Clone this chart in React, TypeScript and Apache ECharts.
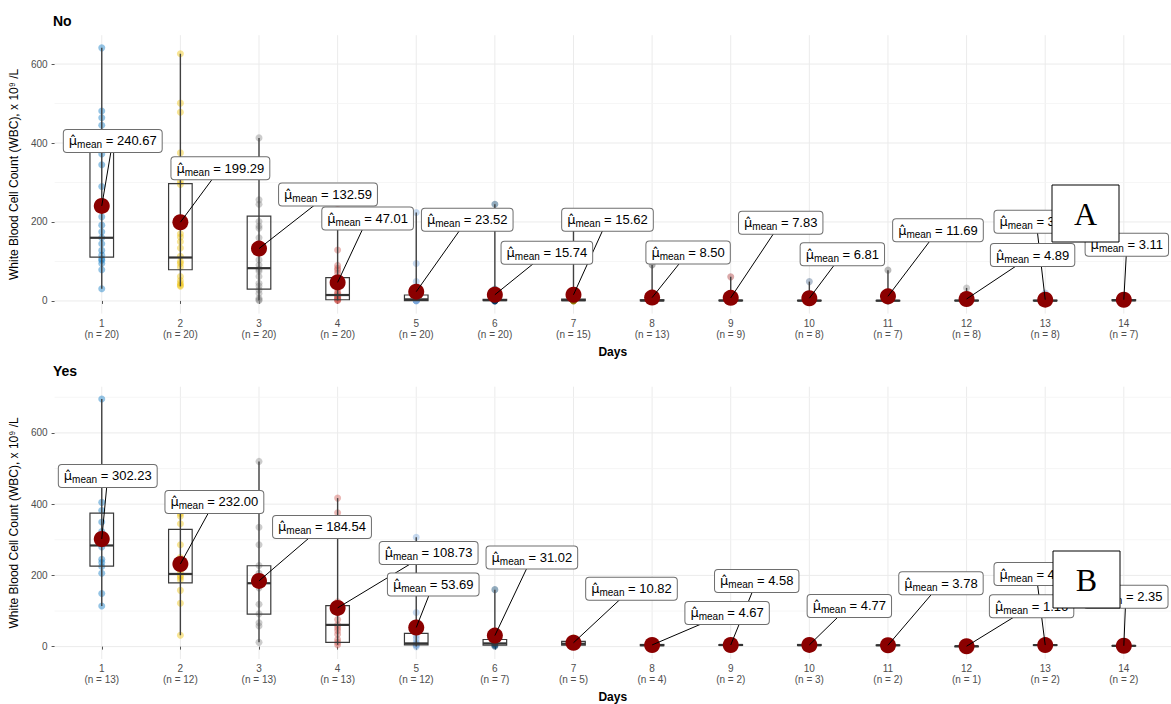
import React, { useEffect, useRef } from "react";
import * as echarts from "echarts";

// Days on study and number of patients per day, by group
const days = [1, 2, 3, 4, 5, 6, 7, 8, 9, 10, 11, 12, 13, 14];
const countNo = [20, 20, 20, 20, 20, 20, 15, 13, 9, 8, 7, 8, 8, 7];
const countYes = [13, 12, 13, 13, 12, 7, 5, 4, 2, 3, 2, 1, 2, 2];

// Group means of WBC (x 10^9/L)
const meanNo = [240.67, 199.29, 132.59, 47.01, 23.52, 15.74, 15.62, 8.5, 7.83, 6.81, 11.69, 4.89, 3.25, 3.11];
const meanYes = [302.23, 232.0, 184.54, 108.73, 53.69, 31.02, 10.82, 4.67, 4.58, 4.77, 3.78, 1.16, 4.35, 2.35];

// Box statistics per day: [min, Q1, median, Q3, max]
const boxNo = [
  [31, 111, 160, 382, 641],
  [37, 79, 110, 297, 626],
  [1, 30, 83, 215, 413],
  [1, 3, 15, 59, 232],
  [0.3, 1, 4, 15, 224],
  [0.1, 1, 2, 4, 245],
  [0.2, 0.9, 2, 4.5, 190],
  [0.2, 0.5, 1, 3, 91],
  [0.3, 0.5, 1, 2, 61],
  [0, 0.25, 0.75, 1.6, 49],
  [0.03, 0.25, 0.8, 1.25, 78],
  [0.02, 0.4, 0.9, 1.6, 33],
  [0.1, 0.35, 0.65, 1.8, 20],
  [0.27, 0.75, 1.5, 3.25, 12],
];
const boxYes = [
  [114, 226, 284, 375, 695],
  [32, 179, 204, 329, 373],
  [12, 91, 178, 227, 520],
  [5, 12, 61, 115, 417],
  [0, 5, 9, 37, 307],
  [1, 4, 9, 20, 160],
  [2, 4, 8, 15, 25],
  [1.7, 2.7, 4, 6, 9],
  [2.16, 3.37, 4.58, 5.79, 7],
  [2.31, 3.16, 4, 6, 8],
  [2.56, 3.17, 3.78, 4.39, 5],
  [1.16, 1.16, 1.16, 1.16, 1.16],
  [2.7, 3.53, 4.35, 5.18, 6],
  [1.2, 1.78, 2.35, 2.93, 3.5],
];

// Individual patient observations per day
const wbcNo = [
  [641, 481, 464, 445, 398, 372, 345, 290, 213, 192, 175, 160, 145, 128, 116, 107, 103, 95, 79, 31],
  [626, 501, 478, 375, 340, 302, 295, 170, 150, 162, 134, 113, 100, 95, 86, 62, 52, 45, 40, 37],
  [413, 256, 245, 201, 190, 184, 160, 130, 104, 91, 80, 75, 62, 45, 38, 28, 19, 7, 3, 1],
  [232, 90, 129, 83, 78, 70, 60, 49, 40, 30, 22, 19, 15, 12, 9, 7, 5, 3, 2, 1],
  [224, 95, 49, 30, 19, 12, 8, 6, 5, 4, 3, 3, 2, 2, 1, 1, 1, 0.5, 0.5, 0.3],
  [245, 30, 12, 8, 6, 5, 4, 3, 3, 2, 2, 2, 1, 1, 1, 1, 0.5, 0.5, 0.2, 0.1],
  [190, 20, 8, 5, 4, 3, 2, 2, 1.5, 1, 1, 0.8, 0.5, 0.3, 0.2],
  [91, 5, 4, 3, 2, 1.5, 1, 1, 0.8, 0.5, 0.3, 0.2, 0.2],
  [61, 3, 2, 1.5, 1, 0.8, 0.5, 0.3, 0.4],
  [49, 2, 1.5, 1, 0.5, 0.3, 0.2, 0],
  [78, 1.5, 1, 0.8, 0.3, 0.2, 0.03],
  [33, 2, 1.5, 1, 0.8, 0.5, 0.3, 0.02],
  [20, 2.5, 1.5, 0.8, 0.5, 0.4, 0.2, 0.1],
  [12, 4, 2.5, 1.5, 1, 0.5, 0.27],
];
const wbcYes = [
  [695, 405, 382, 350, 323, 290, 280, 245, 236, 225, 206, 149, 114],
  [373, 366, 345, 286, 250, 210, 200, 195, 188, 158, 122, 32],
  [520, 335, 286, 228, 206, 195, 178, 165, 119, 92, 67, 58, 12],
  [417, 376, 126, 118, 95, 76, 61, 53, 45, 35, 20, 12, 5],
  [307, 96, 60, 40, 30, 22, 12, 8, 6, 5, 3, 0],
  [160, 25, 15, 9, 5, 3, 1],
  [25, 15, 8, 4, 2],
  [9, 5, 3, 1.7],
  [7, 2.16],
  [8, 4, 2.31],
  [5, 2.56],
  [1.16],
  [6, 2.7],
  [3.5, 1.2],
];

const yTicks = [0, 200, 400, 600];
const yMinor = [100, 300, 500, 700];

// Pixel offsets of each mean label from its point
const labelOffsetNo = [[11, -65], [40, -54], [69, -54], [30, -64], [51, -72], [52, -42], [34, -75], [36, -45], [50, -75], [33, -44], [50, -66], [66, -44], [-9, -78], [3, -55]];
const labelOffsetYes = [[6, -63], [34, -62], [63, -54], [91, -55], [17, -43], [37, -78], [58, -54], [75, -32], [26, -64], [40, -39], [53, -62], [65, -40], [-9, -71], [2, -49]];

const palette = ["#0073C2", "#EFC000", "#868686", "#CD534C", "#7AA6DC", "#003C67", "#8F7700", "#3B3B3B", "#A73030", "#4A6990", "#5B5B5B", "#868686", "#7AA6DC", "#4A6990"];
const FONT = "'Liberation Sans', Arial, Helvetica, sans-serif";

function buildPanel(g: number, counts: number[], means: number[], boxes: number[][], obs: number[][], offsets: number[][]) {
  const all = obs.flat();
  const lo = Math.min(...all);
  const hi = Math.max(...all);
  const pad = (hi - lo) * 0.05;
  const yMin = lo - pad;
  const yMax = hi + pad;

  const xAxis = {
    gridIndex: g,
    type: "value",
    min: 0.4,
    max: 14.6,
    axisLine: { show: false },
    axisTick: { show: true, customValues: days, length: 3, lineStyle: { color: "#555", width: 1 } },
    axisLabel: {
      customValues: days,
      formatter: (v: number) => `${v}\n(n = ${counts[v - 1]})`,
      fontSize: 10,
      lineHeight: 11,
      color: "#4D4D4D",
      fontFamily: FONT,
      margin: 4,
    },
    splitLine: { show: false },
    name: "Days",
    nameLocation: "middle",
    nameGap: 32,
    nameTextStyle: { fontSize: 12, fontWeight: "bold", color: "#000", fontFamily: FONT },
  };

  const yAxis = {
    gridIndex: g,
    type: "value",
    min: yMin,
    max: yMax,
    axisLine: { show: false },
    axisTick: { show: true, customValues: yTicks, length: 3, lineStyle: { color: "#555", width: 1 } },
    axisLabel: { customValues: yTicks, fontSize: 10, color: "#4D4D4D", fontFamily: FONT, margin: 7 },
    splitLine: { show: false },
    name: "White Blood Cell Count (WBC), x 10\u2079 /L",
    nameLocation: "middle",
    nameGap: 31,
    nameTextStyle: { fontSize: 12, color: "#000", fontFamily: FONT },
  };

  const gridData: number[][] = [
    ...days.map((d) => [0, d]),
    ...yTicks.filter((v) => v <= yMax).map((v) => [1, v]),
    ...yMinor.filter((v) => v <= yMax).map((v) => [2, v]),
  ];

  const series: any[] = [
    {
      type: "custom",
      xAxisIndex: g,
      yAxisIndex: g,
      silent: true,
      z: 0,
      data: gridData,
      encode: { x: 1, y: 1 },
      renderItem: (params: any, api: any) => {
        const cs = params.coordSys;
        const kind = api.value(0);
        const v = api.value(1);
        if (kind === 0) {
          const p = api.coord([v, 0]);
          return { type: "line", shape: { x1: p[0], y1: cs.y, x2: p[0], y2: cs.y + cs.height }, style: { stroke: "#EBEBEB", lineWidth: 1 } };
        }
        const p = api.coord([1, v]);
        return {
          type: "line",
          shape: { x1: cs.x, y1: p[1], x2: cs.x + cs.width, y2: p[1] },
          style: { stroke: kind === 1 ? "#EBEBEB" : "#F4F4F4", lineWidth: kind === 1 ? 1 : 0.8 },
        };
      },
    },
    {
      type: "scatter",
      xAxisIndex: g,
      yAxisIndex: g,
      silent: true,
      z: 2,
      symbolSize: 7,
      data: obs.flatMap((vals, i) =>
        vals.map((v) => ({ value: [days[i], v], itemStyle: { color: palette[i], opacity: 0.42 } }))
      ),
    },
    {
      type: "custom",
      xAxisIndex: g,
      yAxisIndex: g,
      silent: true,
      z: 3,
      data: boxes.map((b, i) => [days[i], ...b]),
      encode: { x: 0, y: [1, 2, 3, 4, 5] },
      renderItem: (params: any, api: any) => {
        const d = api.value(0);
        const pMin = api.coord([d, api.value(1)]);
        const pQ1 = api.coord([d, api.value(2)]);
        const pMed = api.coord([d, api.value(3)]);
        const pQ3 = api.coord([d, api.value(4)]);
        const pMax = api.coord([d, api.value(5)]);
        const w = api.size([0.3, 0])[0];
        const x = pMed[0];
        return {
          type: "group",
          children: [
            { type: "line", shape: { x1: x, y1: pMin[1], x2: x, y2: pMax[1] }, style: { stroke: "#404040", lineWidth: 1.4 } },
            {
              type: "rect",
              shape: { x: x - w / 2, y: pQ3[1], width: w, height: Math.max(pQ1[1] - pQ3[1], 0.5) },
              style: { fill: "none", stroke: "#3a3a3a", lineWidth: 1.2 },
            },
            { type: "line", shape: { x1: x - w / 2, y1: pMed[1], x2: x + w / 2, y2: pMed[1] }, style: { stroke: "#333", lineWidth: 2.2 } },
          ],
        };
      },
    },
    {
      type: "scatter",
      xAxisIndex: g,
      yAxisIndex: g,
      silent: true,
      z: 4,
      symbolSize: 16,
      itemStyle: { color: "#8B0000", opacity: 1 },
      data: means.map((m, i) => [days[i], m]),
    },
    {
      type: "custom",
      xAxisIndex: g,
      yAxisIndex: g,
      silent: true,
      z: 5,
      data: means.map((m, i) => [days[i], m]),
      encode: { x: 0, y: 1 },
      renderItem: (params: any, api: any) => {
        const p = api.coord([api.value(0), api.value(1)]);
        const o = offsets[params.dataIndex];
        return { type: "line", shape: { x1: p[0], y1: p[1], x2: p[0] + o[0], y2: p[1] + o[1] }, style: { stroke: "#000", lineWidth: 1 } };
      },
    },
    {
      type: "custom",
      xAxisIndex: g,
      yAxisIndex: g,
      silent: true,
      z: 6,
      data: means.map((m, i) => [days[i], m]),
      encode: { x: 0, y: 1 },
      renderItem: (params: any, api: any) => {
        const p = api.coord([api.value(0), api.value(1)]);
        const o = offsets[params.dataIndex];
        const m = means[params.dataIndex];
        return {
          type: "text",
          x: p[0] + o[0],
          y: p[1] + o[1],
          style: {
            text: `{mu|\u03bc\u0302}{sub|mean}{val| = ${m.toFixed(2)}}`,
            align: "center",
            verticalAlign: "middle",
            fontFamily: FONT,
            fill: "#000",
            backgroundColor: "#fff",
            borderColor: "#6e6e6e",
            borderWidth: 1,
            borderRadius: 3,
            padding: [2, 5, 2, 5],
            rich: {
              mu: { fontSize: 13, fontFamily: "'DejaVu Sans', sans-serif", fill: "#000", lineHeight: 18 },
              sub: { fontSize: 10, fontFamily: FONT, fill: "#000", lineHeight: 12, verticalAlign: "bottom" },
              val: { fontSize: 13, fontFamily: FONT, fill: "#000", lineHeight: 18 },
            },
          },
        };
      },
    },
  ];

  return { xAxis, yAxis, series };
}

export default function App() {
  const ref = useRef<HTMLDivElement>(null);

  useEffect(() => {
    if (!ref.current) return;
    const chart = echarts.init(ref.current, undefined, { renderer: "svg" });
    const top = buildPanel(0, countNo, meanNo, boxNo, wbcNo, labelOffsetNo);
    const bottom = buildPanel(1, countYes, meanYes, boxYes, wbcYes, labelOffsetYes);

    const tagBox = (letter: string, x: number, y: number) => [
      { type: "rect", z: 100, shape: { x, y, width: 67, height: 57 }, style: { fill: "#fff", stroke: "#000", lineWidth: 1 } },
      {
        type: "text",
        z: 101,
        x: x + 33.5,
        y: y + 29,
        style: { text: letter, fontFamily: "'Liberation Serif', 'Times New Roman', serif", fontSize: 32, fill: "#000", align: "center", verticalAlign: "middle" },
      },
    ];

    chart.setOption({
      animation: false,
      backgroundColor: "#fff",
      title: [
        { text: "No", left: 53, top: 14, padding: 0, textStyle: { fontSize: 14, fontWeight: "bold", color: "#000", fontFamily: FONT } },
        { text: "Yes", left: 53, top: 364, padding: 0, textStyle: { fontSize: 14, fontWeight: "bold", color: "#000", fontFamily: FONT } },
      ],
      grid: [
        { left: 52.5, top: 35.2, width: 1123.3, height: 278.4 },
        { left: 52.5, top: 386.7, width: 1123.3, height: 278.7 },
      ],
      xAxis: [top.xAxis, bottom.xAxis],
      yAxis: [top.yAxis, bottom.yAxis],
      series: [...top.series, ...bottom.series],
      graphic: [...tagBox("A", 1052, 185), ...tagBox("B", 1053, 551)],
    });

    return () => chart.dispose();
  }, []);

  return <div ref={ref} style={{ position: "absolute", left: 0, top: 0, width: 1171, height: 704 }} />;
}
